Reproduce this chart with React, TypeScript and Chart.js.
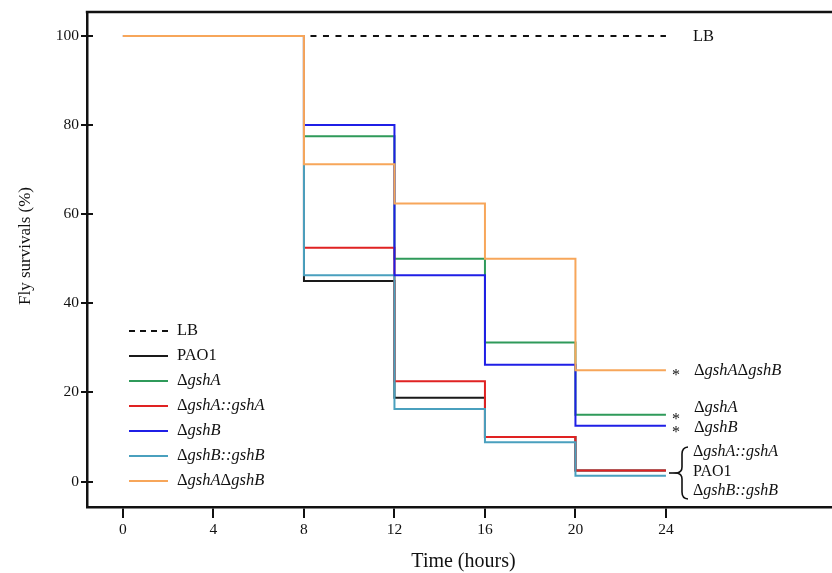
import React, { useEffect, useRef } from "react";
import { Chart, registerables } from "chart.js";

Chart.register(...registerables);

// ---- data ----
const times = [0, 8, 12, 16, 20, 24];
const xTicks = [0, 4, 8, 12, 16, 20, 24];
const yTicks = [0, 20, 40, 60, 80, 100];

const seriesNames = ["LB", "PAO1", "ΔgshA", "ΔgshA::gshA", "ΔgshB", "ΔgshB::gshB", "ΔgshAΔgshB"];
const lbValues = [100, 100, 100, 100, 100, 100];
const pao1Values = [100, 45, 18.8, 10, 2.5, 2.5];
const gshAValues = [100, 77.5, 50, 31.2, 15, 15];
const gshACompValues = [100, 52.5, 22.5, 10, 2.5, 2.5];
const gshBValues = [100, 80, 46.3, 26.2, 12.5, 12.5];
const gshBCompValues = [100, 46.3, 16.3, 8.8, 1.3, 1.3];
const gshABValues = [100, 71.2, 62.4, 50, 25, 25];

const seriesValues = [lbValues, pao1Values, gshAValues, gshACompValues, gshBValues, gshBCompValues, gshABValues];
const seriesColors = ["#111111", "#1a1a1a", "#2f9a5a", "#e02222", "#1f1fe6", "#4aa0be", "#f7a65a"];
const drawOrder = [7, 6, 5, 4, 2, 3, 0]; // lower = on top
const xTitle = "Time (hours)";
const yTitle = "Fly survivals (%)";

const FONT = '"Liberation Serif", "Times New Roman", serif';

function drawRich(ctx: CanvasRenderingContext2D, text: string, x: number, y: number, size: number) {
  ctx.textBaseline = "middle";
  ctx.textAlign = "left";
  const hasDelta = text.includes("Δ");
  const parts = hasDelta ? text.split(/(Δ)/).filter((p) => p.length > 0) : [text];
  let cx = x;
  for (const p of parts) {
    const italic = hasDelta && p !== "Δ";
    ctx.font = `${italic ? "italic " : ""}${size}px ${FONT}`;
    ctx.fillText(p, cx, y);
    cx += ctx.measureText(p).width;
  }
}

const decorPlugin = {
  id: "decor",
  afterDraw(chart: any) {
    const { ctx, chartArea, scales } = chart;
    const ys = scales.y;
    ctx.save();
    ctx.strokeStyle = "#111";
    ctx.fillStyle = "#111";
    // top frame line
    ctx.lineWidth = 2.5;
    ctx.beginPath();
    ctx.moveTo(chartArea.left - 1.2, chartArea.top);
    ctx.lineTo(chartArea.right, chartArea.top);
    ctx.stroke();
    // inner halves of y ticks
    ctx.lineWidth = 2;
    for (const v of yTicks) {
      const py = Math.round(ys.getPixelForValue(v));
      ctx.beginPath();
      ctx.moveTo(chartArea.left, py);
      ctx.lineTo(chartArea.left + 6, py);
      ctx.stroke();
    }
    // axis titles
    ctx.font = `20px ${FONT}`;
    ctx.textAlign = "center";
    ctx.textBaseline = "middle";
    ctx.fillText(xTitle, (chartArea.left + chartArea.right) / 2 + 4, 562);
    ctx.save();
    ctx.translate(26, 246);
    ctx.rotate(-Math.PI / 2);
    ctx.font = `17px ${FONT}`;
    ctx.fillText(yTitle, 0, 0);
    ctx.restore();

    // legend
    const lx0 = 129, lx1 = 168, tx = 177, ly0 = 331, step = 25;
    seriesNames.forEach((name, i) => {
      const y = ly0 + i * step;
      ctx.strokeStyle = seriesColors[i];
      ctx.lineWidth = 2;
      ctx.setLineDash(i === 0 ? [6, 5] : []);
      ctx.beginPath();
      ctx.moveTo(lx0, y);
      ctx.lineTo(lx1, y);
      ctx.stroke();
      ctx.setLineDash([]);
      ctx.fillStyle = "#111";
      drawRich(ctx, name, tx, y, 16.5);
    });

    // right-side annotations
    ctx.fillStyle = "#111";
    ctx.strokeStyle = "#111";
    drawRich(ctx, "LB", 693, 37, 16.5);
    drawRich(ctx, "ΔgshAΔgshB", 694, 371, 16.5);
    drawRich(ctx, "ΔgshA", 694, 408, 16.5);
    drawRich(ctx, "ΔgshB", 694, 428, 16.5);
    drawRich(ctx, "ΔgshA::gshA", 693, 452, 16);
    drawRich(ctx, "PAO1", 693, 472, 16);
    drawRich(ctx, "ΔgshB::gshB", 693, 491, 16);
    ctx.font = `16px ${FONT}`;
    ctx.textAlign = "center";
    ctx.textBaseline = "middle";
    for (const ay of [372, 416, 429]) ctx.fillText("*", 676, ay + 4);
    // brace
    ctx.lineWidth = 1.6;
    ctx.beginPath();
    ctx.moveTo(688, 447);
    ctx.quadraticCurveTo(682, 447.5, 682, 454);
    ctx.lineTo(682, 467);
    ctx.quadraticCurveTo(682, 472, 677, 473);
    ctx.quadraticCurveTo(682, 474, 682, 479);
    ctx.lineTo(682, 492);
    ctx.quadraticCurveTo(682, 498.5, 688, 499);
    ctx.stroke();
    ctx.beginPath();
    ctx.moveTo(669, 473);
    ctx.lineTo(677, 473);
    ctx.stroke();
    ctx.restore();
  },
};

export default function App() {
  const ref = useRef<HTMLCanvasElement | null>(null);
  useEffect(() => {
    document.body.style.margin = "0";
    const canvas = ref.current;
    if (!canvas) return;
    const datasets = seriesNames.map((name, i) => ({
      label: name,
      data: times.map((t, j) => ({ x: t, y: seriesValues[i][j] })),
      borderColor: seriesColors[i],
      backgroundColor: seriesColors[i],
      borderWidth: i === 0 ? 1.8 : 2,
      borderDash: i === 0 ? [6, 6.5] : [],
      stepped: true as const,
      pointRadius: 0,
      fill: false,
      order: drawOrder[i],
    }));
    const chart = new Chart(canvas, {
      type: "line",
      data: { datasets },
      options: {
        animation: false,
        responsive: false,
        devicePixelRatio: 1,
        layout: { padding: { top: 12, left: 0, right: 0, bottom: 0 } },
        plugins: { legend: { display: false }, tooltip: { enabled: false } },
        scales: {
          x: {
            type: "linear",
            min: -1.59,
            max: 31.34,
            afterFit: (s: any) => {
              s.height = 66;
            },
            afterBuildTicks: (s: any) => {
              s.ticks = xTicks.map((v) => ({ value: v }));
            },
            grid: { display: true, drawOnChartArea: false, drawTicks: true, tickLength: 11, color: "#111", lineWidth: 2 },
            border: { display: true, color: "#111", width: 2.5 },
            ticks: { padding: 3, color: "#111", font: { family: FONT, size: 15.5 } },
          },
          y: {
            type: "linear",
            min: -5.72,
            max: 105.39,
            afterFit: (s: any) => {
              s.width = 87;
            },
            afterBuildTicks: (s: any) => {
              s.ticks = yTicks.map((v) => ({ value: v }));
            },
            grid: { display: true, drawOnChartArea: false, drawTicks: true, tickLength: 6, color: "#111", lineWidth: 2 },
            border: { display: true, color: "#111", width: 2.5 },
            ticks: { padding: 2, color: "#111", font: { family: FONT, size: 15.5 } },
          },
        },
      },
      plugins: [decorPlugin],
    });
    return () => chart.destroy();
  }, []);
  return (
    <div style={{ position: "fixed", left: 0, top: 0, width: 832, height: 573, background: "#fff" }}>
      <canvas ref={ref} width={832} height={573} style={{ width: 832, height: 573 }} />
    </div>
  );
}
